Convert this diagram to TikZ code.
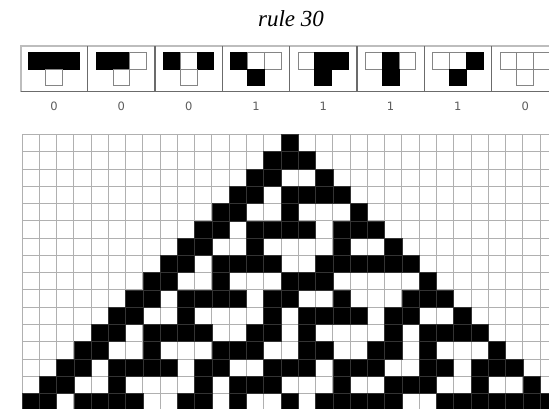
\documentclass[tikz,border=0pt]{standalone}
\usepackage{fontspec}
\setmainfont{Liberation Serif}
\newfontfamily\digitfont{DejaVu Sans}
\definecolor{gridgray}{HTML}{B0B0B0}
\definecolor{framedark}{HTML}{6B6B6B}
\definecolor{framelight}{HTML}{BDBDBD}
\definecolor{cellgray}{HTML}{858585}
\definecolor{digitgray}{HTML}{5C5C5C}
\tikzset{
  cell0/.style={fill=white, draw=cellgray, line width=0.9pt},
  cell1/.style={fill=black, draw=black, line width=0.9pt},
  gridln/.style={draw=gridgray, line width=1pt},
  blackcell/.style={fill=black, draw=black!80, line width=0.6pt},
  outlab/.style={font=\digitfont\fontsize{11.5}{11.5}\selectfont, text=digitgray},
}

\begin{document}
\begin{tikzpicture}[x=1pt,y=-1pt]
  \useasboundingbox (0,0) rectangle (549,409);
  \clip (0,0) rectangle (549,409);

  \node[font=\itshape\fontsize{23}{23}\selectfont] (title) at (291,18.5) {rule 30};

  % rule table: left, centre, right -> new cell
  \draw[framelight, line width=2pt] (20.5,91.7) -- (20.5,46.5) -- (560,46.5);
  \draw[framedark, line width=1.3pt] (20.5,91.7) -- (560,91.7);
  \foreach \i in {1,...,7} \draw[framedark, line width=1.3pt] ({20.5+67.3*\i},46.5) -- ++(0,45.2);
  \foreach \a/\b/\c/\o [count=\i from 0] in {1/1/1/0, 1/1/0/0, 1/0/1/0, 1/0/0/1, 0/1/1/1, 0/1/0/1, 0/0/1/1, 0/0/0/0} {
    \pgfmathsetmacro\bx{20.5+67.3*\i+8.4}
    \draw[cell\a] (\bx,52.3) rectangle ++(16.8,16.8);
    \draw[cell\b] ({\bx+16.8},52.3) rectangle ++(16.8,16.8);
    \draw[cell\c] ({\bx+33.6},52.3) rectangle ++(16.8,16.8);
    \draw[cell\o] ({\bx+16.8},69.1) rectangle ++(16.8,16.8);
    \node[outlab] (out\i) at ({\bx+25.2},106) {\o};
  }

  % evolution from a single black cell
  \foreach \k in {0,...,31} \draw[gridln] ({22+\k*17.27},134.5) -- ++(0,280);
  \foreach \r in {0,...,16} \draw[gridln] (22,{134.5+\r*17.27}) -- ++(545,0);
  \foreach \row [count=\r from 0] in {
      {1},
      {1,1,1},
      {1,1,0,0,1},
      {1,1,0,1,1,1,1},
      {1,1,0,0,1,0,0,0,1},
      {1,1,0,1,1,1,1,0,1,1,1},
      {1,1,0,0,1,0,0,0,0,1,0,0,1},
      {1,1,0,1,1,1,1,0,0,1,1,1,1,1,1},
      {1,1,0,0,1,0,0,0,1,1,1,0,0,0,0,0,1},
      {1,1,0,1,1,1,1,0,1,1,0,0,1,0,0,0,1,1,1},
      {1,1,0,0,1,0,0,0,0,1,0,1,1,1,1,0,1,1,0,0,1},
      {1,1,0,1,1,1,1,0,0,1,1,0,1,0,0,0,0,1,0,1,1,1,1},
      {1,1,0,0,1,0,0,0,1,1,1,0,0,1,1,0,0,1,1,0,1,0,0,0,1},
      {1,1,0,1,1,1,1,0,1,1,0,0,1,1,1,0,1,1,1,0,0,1,1,0,1,1,1},
      {1,1,0,0,1,0,0,0,0,1,0,1,1,1,0,0,0,1,0,0,1,1,1,0,0,1,0,0,1},
      {1,1,0,1,1,1,1,0,0,1,1,0,1,0,0,1,0,1,1,1,1,1,0,0,1,1,1,1,1,1,1}} {
    \foreach \v [count=\k from 0] in \row {
      \ifnum\v=1
        \draw[blackcell] ({22+(15-\r+\k)*17.27},{134.5+\r*17.27}) rectangle ++(17.27,17.27);
      \fi
    }
  }
\end{tikzpicture}
\end{document}
